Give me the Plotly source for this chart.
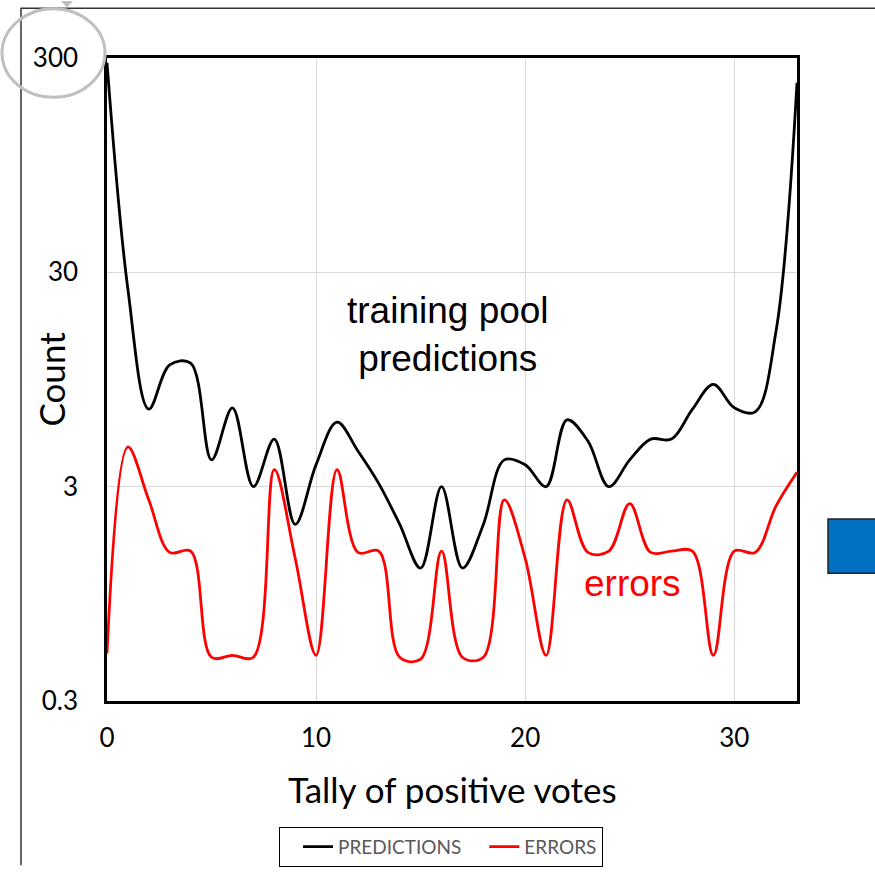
import plotly.graph_objects as go

# ---- data ----
tally = list(range(34))
predictions = [285, 25, 6.9, 11.1, 11.3, 4.0, 7.0, 3.0, 5.0, 2.0, 3.8, 6.0,
               4.4, 3.1, 2.0, 1.25, 3.0, 1.25, 2.0, 4.0, 3.8, 3.0,
               6.15, 4.9, 3.0, 4.0, 5.0, 5.0, 6.9, 9.0, 7.0, 6.7, 16, 230]
errors = [0.50, 4.6, 2.6, 1.48, 1.5, 0.48, 0.49, 0.48, 3.6, 1.39, 0.49, 3.6,
          1.48, 1.5, 0.48, 0.47, 1.5, 0.48, 0.48, 2.6, 1.39, 0.49,
          2.6, 1.48, 1.5, 2.5, 1.48, 1.5, 1.5, 0.49, 1.5, 1.48, 2.44, 3.5]
y_ticks = [0.3, 3, 30, 300]
y_tick_text = ["0.3", "3", "30", "300"]
x_ticks = [0, 10, 20, 30]

W, H = 875, 879
L, R, T, B = 107, 78, 58, 167
PW, PH = W - L - R, H - T - B


def px(x):
    return (x - L) / PW


def py(y):
    return (H - B - y) / PH


fig = go.Figure()
fig.add_trace(go.Scatter(x=tally, y=predictions, mode="lines", name="PREDICTIONS",
                         line=dict(color="black", width=2.8, shape="spline", smoothing=1)))
fig.add_trace(go.Scatter(x=tally, y=errors, mode="lines", name="ERRORS",
                         line=dict(color="#FF0000", width=2.8, shape="spline", smoothing=1)))

tick_font = dict(family="Lato", size=26, color="black")

fig.update_layout(
    width=W, height=H,
    margin=dict(l=L, r=R, t=T, b=B, pad=0),
    paper_bgcolor="white", plot_bgcolor="white",
    showlegend=True,
    legend=dict(orientation="h", x=px(279), y=py(840), xanchor="left", yanchor="top",
                bordercolor="black", borderwidth=1, bgcolor="white",
                font=dict(family="Lato", size=19, color="#595959"),
                indentation=18, itemwidth=30),
    xaxis=dict(range=[0, 33], tickvals=x_ticks, showgrid=True, gridcolor="#D9D9D9",
               gridwidth=1, zeroline=False, showline=True, linecolor="black",
               linewidth=2.5, mirror=True, ticks="", tickfont=tick_font,
               ticklabelstandoff=12),
    yaxis=dict(type="log", range=[-0.5229, 2.4771], tickvals=y_ticks,
               ticktext=y_tick_text, showgrid=True, gridcolor="#D9D9D9", gridwidth=1,
               zeroline=False, showline=True, linecolor="black", linewidth=2.5,
               mirror=True, ticks="", tickfont=tick_font, ticklabelstandoff=21),
)

# axis titles
fig.add_annotation(text="Tally of positive votes", xref="paper", yref="paper",
                   x=px(452), y=py(801), xanchor="center", yanchor="middle",
                   showarrow=False, font=dict(family="Lato", size=35, color="black"))
fig.add_annotation(text="Count", xref="paper", yref="paper",
                   x=px(50), y=py(385), xanchor="center", yanchor="middle",
                   showarrow=False, textangle=-90,
                   font=dict(family="Lato", size=35, color="black"))

# in-plot labels
fig.add_annotation(text="training pool<br>predictions", xref="paper", yref="paper",
                   x=px(448), y=py(339), xanchor="center", yanchor="middle",
                   showarrow=False,
                   font=dict(family="Liberation Sans", size=37, color="black"))
fig.add_annotation(text="errors", xref="paper", yref="paper",
                   x=px(632), y=py(592), xanchor="center", yanchor="middle",
                   showarrow=False,
                   font=dict(family="Liberation Sans", size=37, color="#FF0000"))

# decorations of the surrounding slide
fig.add_shape(type="line", xref="paper", yref="paper", x0=px(21), x1=px(21),
              y0=py(7), y1=py(879), line=dict(color="#333333", width=1.5))
fig.add_shape(type="line", xref="paper", yref="paper", x0=px(21), x1=px(875),
              y0=py(7.5), y1=py(7.5), line=dict(color="#333333", width=1.5))
fig.add_shape(type="circle", xref="paper", yref="paper", x0=px(2), x1=px(105),
              y0=py(8), y1=py(98), line=dict(color="#BFBFBF", width=3))
fig.add_shape(type="path", xref="paper", yref="paper",
              path=f"M {px(61)} {py(0)} L {px(73)} {py(0)} L {px(67)} {py(7)} Z",
              fillcolor="#BFBFBF", line=dict(color="#BFBFBF", width=0))
fig.add_shape(type="rect", xref="paper", yref="paper", x0=px(828), x1=px(880),
              y0=py(527), y1=py(582), fillcolor="#0070C0",
              line=dict(color="#222222", width=1.5))

fig.write_html("out.html")
